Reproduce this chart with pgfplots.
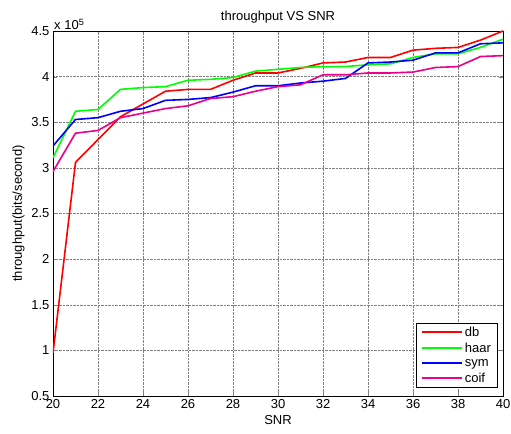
\documentclass[border=0pt]{standalone}
\usepackage{fontspec}
\setmainfont{Liberation Sans}
\usepackage{pgfplots}
\pgfplotsset{compat=1.18}
\usetikzlibrary{calc}

\newcommand{\fs}{\fontsize{13}{15}\selectfont}

\begin{document}
\begin{tikzpicture}
\begin{axis}[
  name=ax,
  scale only axis,
  width=450pt, height=365pt,
  xmin=20, xmax=40, ymin=50000, ymax=450000,
  xtick={20,22,...,40},
  ytick={50000,100000,...,450000},
  scaled y ticks=base 10:-5,
  ytick scale label code/.code={x 10\textsuperscript{#1}},
  every y tick scale label/.style={at={(rel axis cs:0,1)}, anchor=south west,
    inner sep=1pt, font=\fs},
  /pgf/number format/assume math mode=true,
  tick label style={font=\fs},
  label style={font=\fs},
  title style={font=\fs, yshift=-2pt},
  title={throughput VS SNR},
  xlabel={SNR},
  ylabel={throughput(bits/second)},
  grid=major,
  grid style={densely dotted, black!50},
  major tick length=4pt,
  axis line style={black, line width=0.6pt},
  legend style={font=\fs, at={(0.987,0.022)}, anchor=south east,
    draw=black, line width=0.6pt, row sep=1pt, inner xsep=4pt},
  legend cell align=left,
  legend image code/.code={\draw[#1, line width=2.1pt] (0pt,0.5pt) -- (40pt,0.5pt);},
]
\addplot[red, line width=1.6pt] coordinates {
  (20,97000) (21,306000) (22,331000) (23,356000) (24,370000) (25,384000)
  (26,386000) (27,386000) (28,396000) (29,404000) (30,404000) (31,409000)
  (32,415000) (33,416000) (34,421000) (35,421000) (36,429000) (37,431000)
  (38,432000) (39,440000) (40,450000) };
\addlegendentry{db}
\addplot[green, line width=1.6pt] coordinates {
  (20,311000) (21,362000) (22,364000) (23,386000) (24,388000) (25,389000)
  (26,396000) (27,397000) (28,399000) (29,406000) (30,408000) (31,410000)
  (32,411000) (33,411000) (34,413000) (35,414000) (36,421000) (37,425000)
  (38,425000) (39,432000) (40,441000) };
\addlegendentry{haar}
\addplot[blue, line width=1.6pt] coordinates {
  (20,324000) (21,353000) (22,355000) (23,362000) (24,365000) (25,374000)
  (26,375000) (27,377000) (28,383000) (29,390000) (30,390000) (31,393000)
  (32,395000) (33,398000) (34,415000) (35,416000) (36,418000) (37,426000)
  (38,426000) (39,436000) (40,437000) };
\addlegendentry{sym}
\addplot[magenta, line width=1.6pt] coordinates {
  (20,296000) (21,338000) (22,341000) (23,355000) (24,360000) (25,365000)
  (26,368000) (27,376000) (28,378000) (29,384000) (30,389000) (31,391000)
  (32,402000) (33,402000) (34,404000) (35,404000) (36,405000) (37,410000)
  (38,411000) (39,422000) (40,423000) };
\addlegendentry{coif}
\end{axis}
\pgfresetboundingbox
\path[use as bounding box] ($(ax.south west)+(-53pt,-38pt)$) rectangle ($(ax.north east)+(8pt,31pt)$);
\end{tikzpicture}
\end{document}
